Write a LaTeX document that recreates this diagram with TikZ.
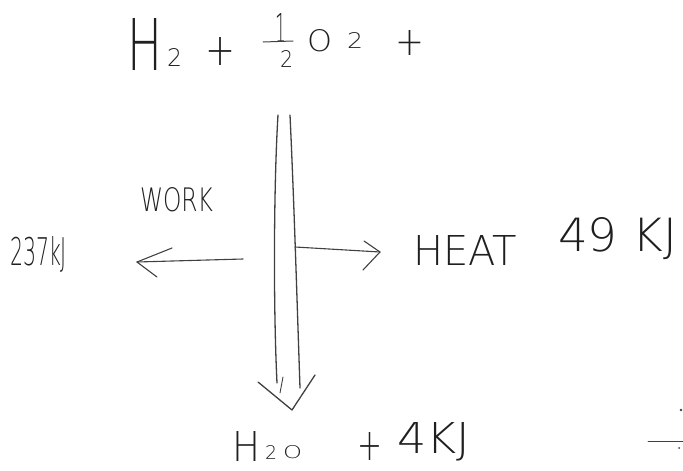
\documentclass[tikz,border=0pt]{standalone}
\usepackage{fontspec}
\usepackage{graphicx}
% thin pencil-like lettering: lightest sans face that is available
\IfFontExistsTF{DejaVu Sans ExtraLight}
  {\newfontfamily\hand{DejaVu Sans ExtraLight}}
  {\IfFontExistsTF{Lato Light}
     {\newfontfamily\hand{Lato Light}}
     {\newfontfamily\hand{Fira Sans}}}
\definecolor{ink}{gray}{0.25}
\definecolor{lead}{gray}{0.12}
% handwritten label squeezed into a box of given width and height (pt)
\newcommand\hw[3]{\resizebox{#1pt}{#2pt}{\hand #3}}
\tikzset{
  lbl/.style={inner sep=0pt, outer sep=0pt, anchor=south west, text=lead},
  pen/.style={draw=ink, line width=1.3pt, line cap=round, line join=round},
}
\begin{document}
\begin{tikzpicture}[x=1pt,y=-1pt]
\path[use as bounding box] (0,0) rectangle (683,471);

% reactants: H2 + 1/2 O2 +
\node[lbl] (rH)    at (127,70) {\hw{35}{52}{H}};
\node[lbl] (rH2)   at (167,66) {\hw{15}{18}{2}};
\node[lbl] (rp1)   at (205,65) {\hw{30}{28}{+}};
\node[lbl] (rnum)  at (275,42) {\hw{11}{29}{1}};
\node[lbl] (rden)  at (280,67) {\hw{13}{17}{2}};
\draw[pen, line width=1pt] (263,42) -- (293,41);
\node[lbl] (rO)    at (307,52) {\hw{25}{22}{O}};
\node[lbl] (rO2)   at (347,48) {\hw{16}{16}{2}};
\node[lbl] (rp2)   at (395,55) {\hw{29}{25}{+}};

% products: H2O + 4 kJ
\node[lbl] (pH)    at (232,461) {\hw{28}{30}{H}};
\node[lbl] (pH2)   at (265,459) {\hw{12}{14}{2}};
\node[lbl] (pO)    at (283,459) {\hw{19}{13}{O}};
\node[lbl] (pp)    at (357,460) {\hw{25}{28}{+}};
\node[lbl] (pkJ)   at (397,461) {\hw{73}{31}{4KJ}};

% side labels
\node[lbl] (work)  at (140,212) {\hw{73}{24}{WORK}};
\node[lbl] (wkJ)   at (10,272)  {\hw{57}{29}{237kJ}};
\node[lbl] (heat)  at (413,265) {\hw{104}{30}{HEAT}};
\node[lbl] (hkJ)   at (558,260) {\hw{119}{34}{49 KJ}};

% arrow anchor points
\coordinate (shTL) at (278,115);
\coordinate (shTR) at (290,115);
\coordinate (shBL) at (277,383);
\coordinate (shBR) at (300,388);
\coordinate (tip)  at (292,410);
\coordinate (wS)   at (243,259);
\coordinate (wT)   at (137,262);
\coordinate (hS)   at (295,247);
\coordinate (hT)   at (380,252);

% main double-lined arrow
\draw[pen] (shTL) .. controls (274,180) and (273,300) .. (shBL);
\draw[pen] (shTR) .. controls (294,200) and (297,300) .. (shBR);
\draw[pen] (258,382) -- (tip) -- (315,375);
\draw[pen, line width=0.9pt] (283,377) -- (280,393);

% work arrow (left)
\draw[pen, line width=1.1pt] (wS) -- (wT);
\draw[pen, line width=1.1pt] (172,248) -- (wT) -- (157,277);

% heat arrow (right)
\draw[pen, line width=1.1pt] (hS) -- (hT);
\draw[pen, line width=1.1pt] (364,241) -- (hT) -- (363,270);

% marks at the right edge
\draw[pen, line width=0.9pt] (648,441) -- (683,441);
\fill[ink] (681,410) circle (1.3);
\fill[ink] (679,448) circle (1);
\end{tikzpicture}
\end{document}
